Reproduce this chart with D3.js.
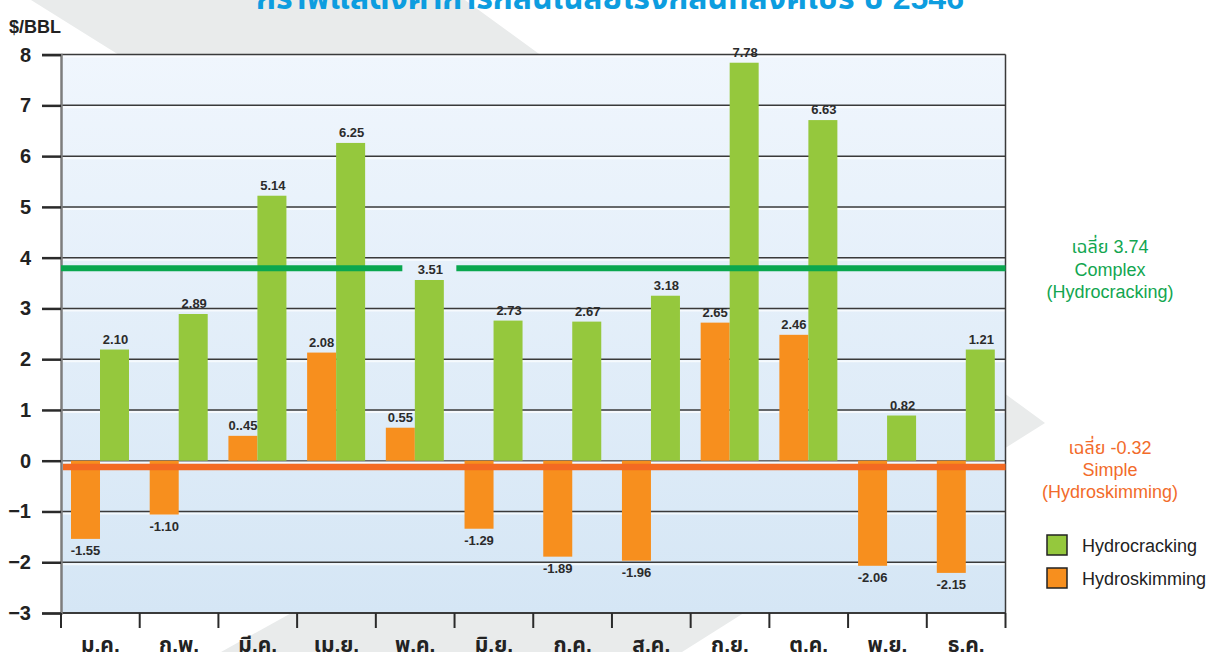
<!DOCTYPE html>
<html>
<head>
<meta charset="utf-8">
<script src="https://cdn.jsdelivr.net/npm/d3@7"></script>
<style>
  html, body { margin: 0; padding: 0; background: #fff; }
  svg { display: block; font-family: "Liberation Sans", Arial, "Noto Sans Thai", sans-serif; }
</style>
</head>
<body>
<svg width="1214" height="652"></svg>
<script>
// ค่าการกลั่น รายเดือน ($/BBL)
var months = ["ม.ค.", "ก.พ.", "มี.ค.", "เม.ย.", "พ.ค.", "มิ.ย.", "ก.ค.", "ส.ค.", "ก.ย.", "ต.ค.", "พ.ย.", "ธ.ค."];
var hydrocracking = [2.19, 2.89, 5.22, 6.26, 3.56, 2.76, 2.74, 3.25, 7.84, 6.71, 0.89, 2.19];
var hydroskimming = [-1.54, -1.06, 0.49, 2.13, 0.65, -1.34, -1.89, -1.97, 2.72, 2.48, -2.07, -2.21];
var hcLabels = ["2.10", "2.89", "5.14", "6.25", "3.51", "2.73", "2.67", "3.18", "7.78", "6.63", "0.82", "1.21"];
var hsLabels = ["-1.55", "-1.10", "0..45", "2.08", "0.55", "-1.29", "-1.89", "-1.96", "2.65", "2.46", "-2.06", "-2.15"];
var yTicks = [-3, -2, -1, 0, 1, 2, 3, 4, 5, 6, 7, 8];
var avgHC = 3.79, avgHS = -0.125;
var avgHCText = ["เฉลี่ย 3.74", "Complex", "(Hydrocracking)"];
var avgHSText = ["เฉลี่ย -0.32", "Simple", "(Hydroskimming)"];
var legendNames = ["Hydrocracking", "Hydroskimming"];
var title = "กราฟแสดงค่าการกลั่นเฉลี่ยโรงกลั่นที่สิงคโปร์ ปี 2546";

var green = "#95c83d", orange = "#f78f1e",
    greenLine = "#0aa74f", orangeLine = "#f36a22";

var svg = d3.select("svg"),
    width = +svg.attr("width"),
    height = +svg.attr("height");

var plotLeft = 61, plotRight = 1005.5, plotTop = 54.6, plotBottom = 613;

var y = d3.scaleLinear().domain([-3, 8]).range([plotBottom, plotTop]);
var x0 = d3.scaleBand().domain(months).range([plotLeft, plotRight]).padding(0);
var x1 = d3.scaleBand().domain(["hs", "hc"]).range([10, 68]);

// grey chevron in the background
svg.append("polygon")
    .attr("points", [[31, 0], [465, 0], [1045, 423], [682, 652], [221, 652], [673, 401]].join(" "))
    .attr("fill", "#e9ebeb");

// title, cut off by the top edge as in the original
svg.append("text")
    .attr("x", 610).attr("y", 9)
    .attr("text-anchor", "middle")
    .attr("font-size", 32).attr("font-weight", "bold")
    .attr("fill", "#0d9ddf")
    .text(title);

var defs = svg.append("defs");
var grad = defs.append("linearGradient").attr("id", "bg")
    .attr("x1", 0).attr("y1", 0).attr("x2", 0).attr("y2", 1);
grad.append("stop").attr("offset", "0%").attr("stop-color", "#f0f6fd");
grad.append("stop").attr("offset", "100%").attr("stop-color", "#d5e6f5");

svg.append("rect")
    .attr("x", plotLeft).attr("y", plotTop)
    .attr("width", plotRight - plotLeft).attr("height", plotBottom - plotTop)
    .attr("fill", "url(#bg)");

// grid lines with a light edge under each
var grid = svg.append("g");
grid.selectAll("line.hi")
    .data(yTicks.slice(1))
    .enter().append("line")
    .attr("x1", plotLeft).attr("x2", plotRight)
    .attr("y1", function(d) { return y(d) + 2; })
    .attr("y2", function(d) { return y(d) + 2; })
    .attr("stroke", "#ffffff").attr("stroke-opacity", 0.7).attr("stroke-width", 2);
grid.selectAll("line.g")
    .data(yTicks)
    .enter().append("line")
    .attr("x1", plotLeft).attr("x2", plotRight)
    .attr("y1", function(d) { return y(d); })
    .attr("y2", function(d) { return y(d); })
    .attr("stroke", function(d) { return d == 0 ? "#6b6b6b" : "#3a3a3a"; })
    .attr("stroke-width", function(d) { return d == -3 ? 2 : 1.5; });

svg.append("line")
    .attr("x1", plotRight).attr("x2", plotRight)
    .attr("y1", plotTop).attr("y2", plotBottom)
    .attr("stroke", "#3a3a3a").attr("stroke-width", 1.5);

// y axis
var yAxis = svg.append("g")
    .attr("transform", "translate(" + plotLeft + ",0)")
    .call(d3.axisLeft(y).tickValues(yTicks).tickSize(19).tickPadding(11).tickFormat(d3.format("d")));
yAxis.select(".domain").attr("stroke", "#7d7d7d").attr("stroke-width", 2.5);
yAxis.selectAll(".tick line").attr("stroke", "#2a2a2a").attr("stroke-width", 2.5);
yAxis.selectAll(".tick text")
    .attr("font-size", 20).attr("font-weight", "bold")
    .attr("font-family", "Liberation Sans, Arial, sans-serif")
    .attr("fill", "#222");

svg.append("text")
    .attr("x", 9).attr("y", 33)
    .attr("font-size", 18).attr("font-weight", "bold").attr("fill", "#222")
    .text("$/BBL");

// x axis: ticks at the month boundaries
var xAxis = svg.append("g");
xAxis.selectAll("line")
    .data(months.concat(["end"]))
    .enter().append("line")
    .attr("x1", function(d) { return d == "end" ? plotRight : x0(d); })
    .attr("x2", function(d) { return d == "end" ? plotRight : x0(d); })
    .attr("y1", plotBottom).attr("y2", plotBottom + 15)
    .attr("stroke", "#2a2a2a").attr("stroke-width", 2);
xAxis.selectAll("text")
    .data(months)
    .enter().append("text")
    .attr("x", function(d) { return x0(d) + x0.bandwidth() / 2; })
    .attr("y", 652)
    .attr("text-anchor", "middle")
    .attr("font-size", 21).attr("font-weight", "bold").attr("fill", "#222")
    .text(function(d) { return d; });

// bars
var rows = months.map(function(m, i) {
    return { month: m, hc: hydrocracking[i], hs: hydroskimming[i], hcLabel: hcLabels[i], hsLabel: hsLabels[i] };
});

var bars = svg.append("g");
bars.selectAll("rect.hs")
    .data(rows)
    .enter().append("rect")
    .attr("x", function(d) { return x0(d.month) + x1("hs"); })
    .attr("y", function(d) { return y(Math.max(0, d.hs)); })
    .attr("width", x1.bandwidth())
    .attr("height", function(d) { return Math.abs(y(d.hs) - y(0)); })
    .attr("fill", orange);
bars.selectAll("rect.hc")
    .data(rows)
    .enter().append("rect")
    .attr("x", function(d) { return x0(d.month) + x1("hc"); })
    .attr("y", function(d) { return y(d.hc); })
    .attr("width", x1.bandwidth())
    .attr("height", function(d) { return y(0) - y(d.hc); })
    .attr("fill", green);

// average lines (green one leaves a gap for the May label)
var gapCenter = x0("พ.ค.") + x1("hc") + x1.bandwidth() / 2;
svg.append("line")
    .attr("x1", plotLeft).attr("x2", gapCenter - 27)
    .attr("y1", y(avgHC)).attr("y2", y(avgHC))
    .attr("stroke", greenLine).attr("stroke-width", 6);
svg.append("line")
    .attr("x1", gapCenter + 27).attr("x2", plotRight)
    .attr("y1", y(avgHC)).attr("y2", y(avgHC))
    .attr("stroke", greenLine).attr("stroke-width", 6);
svg.append("line")
    .attr("x1", plotLeft + 2).attr("x2", plotRight)
    .attr("y1", y(avgHS)).attr("y2", y(avgHS))
    .attr("stroke", orangeLine).attr("stroke-width", 6.5);

// value labels
var labels = svg.append("g")
    .attr("font-family", "Liberation Sans Narrow, Arial Narrow, Liberation Sans, sans-serif")
    .attr("font-size", 13).attr("font-weight", "bold")
    .attr("fill", "#2b2b2b")
    .attr("text-anchor", "middle");
labels.selectAll("text.hc")
    .data(rows)
    .enter().append("text")
    .attr("x", function(d) { return x0(d.month) + x1("hc") + x1.bandwidth() / 2 + 1; })
    .attr("y", function(d) { return y(d.hc) - 6; })
    .text(function(d) { return d.hcLabel; });
labels.selectAll("text.hs")
    .data(rows)
    .enter().append("text")
    .attr("x", function(d) { return x0(d.month) + x1("hs") + x1.bandwidth() / 2; })
    .attr("y", function(d) { return d.hs >= 0 ? y(d.hs) - 6 : y(d.hs) + 16; })
    .text(function(d) { return d.hsLabel; });

// average notes on the right
svg.append("g").selectAll("text")
    .data(avgHCText)
    .enter().append("text")
    .attr("x", 1110).attr("y", function(d, i) { return 253 + i * 22.5; })
    .attr("text-anchor", "middle").attr("font-size", 18)
    .attr("fill", "#12a650")
    .text(function(d) { return d; });
svg.append("g").selectAll("text")
    .data(avgHSText)
    .enter().append("text")
    .attr("x", 1110).attr("y", function(d, i) { return 454 + i * 22; })
    .attr("text-anchor", "middle").attr("font-size", 18)
    .attr("fill", "#f26b2a")
    .text(function(d) { return d; });

// legend
var legend = svg.append("g").selectAll("g")
    .data(legendNames)
    .enter().append("g")
    .attr("transform", function(d, i) { return "translate(1047," + (535 + i * 33) + ")"; });
legend.append("rect")
    .attr("width", 20).attr("height", 20)
    .attr("fill", function(d, i) { return i == 0 ? green : orange; })
    .attr("stroke", "#222").attr("stroke-width", 1.5);
legend.append("text")
    .attr("x", 35).attr("y", 17)
    .attr("font-size", 18).attr("fill", "#222")
    .text(function(d) { return d; });
</script>
</body>
</html>
